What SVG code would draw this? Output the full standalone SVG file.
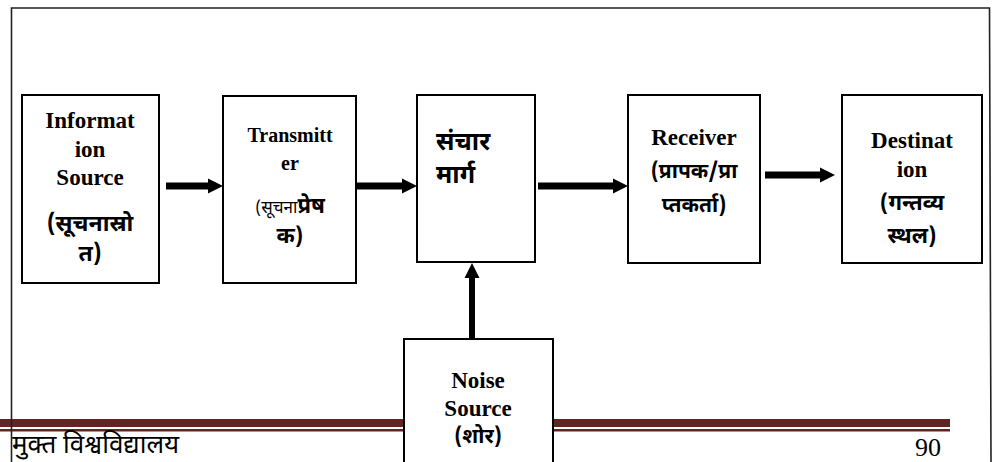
<svg xmlns="http://www.w3.org/2000/svg" width="1002" height="462" viewBox="0 0 1002 462">
  <style>
    .box { fill: #ffffff; stroke: #000000; stroke-width: 2; }
    .frame { fill: none; stroke: #222222; stroke-width: 1.6; }
    .en { font-family: "Liberation Serif", "Times New Roman", serif; font-weight: bold; fill: #000; text-anchor: middle; }
    .hi { font-family: "Noto Sans Devanagari", "Lohit Devanagari", "Noto Sans", sans-serif; font-weight: bold; fill: #000; text-anchor: middle; }
    .hi-left { font-family: "Noto Sans Devanagari", "Lohit Devanagari", "Noto Sans", sans-serif; font-weight: bold; fill: #000; text-anchor: start; }
    .flow { stroke: #000000; stroke-width: 7; fill: none; }
    .footer { font-family: "Noto Sans Devanagari", "Lohit Devanagari", "Noto Sans", sans-serif; fill: #000; }
  </style>
  <defs>
    <marker id="head" markerUnits="userSpaceOnUse" markerWidth="16" markerHeight="16" viewBox="0 -8 16 16" refX="0" refY="0" orient="auto">
      <path d="M0,-7.5 L15,0 L0,7.5 Z" fill="#000"/>
    </marker>
  </defs>

  <!-- page band and page number -->
  <rect x="0" y="419" width="950" height="8" fill="#632523"/>
  <rect x="0" y="429" width="950" height="2.5" fill="#632523"/>
  <text class="footer" x="12" y="453" font-size="26">मुक्त विश्वविद्यालय</text>
  <text x="928" y="456" font-family="Liberation Serif, serif" font-size="26" text-anchor="middle" fill="#000">90</text>

  <!-- outer frame -->
  <path class="frame" d="M11.5,462 L11.5,8 L989.5,8 L991,462"/>

  <!-- connectors -->
  <g id="connectors">
    <line class="flow" x1="166" y1="186" x2="208" y2="186" marker-end="url(#head)"/>
    <line class="flow" x1="356" y1="186" x2="402" y2="186" marker-end="url(#head)"/>
    <line class="flow" x1="538" y1="186" x2="613" y2="186" marker-end="url(#head)"/>
    <line class="flow" x1="765" y1="175" x2="820" y2="175" marker-end="url(#head)"/>
    <line class="flow" style="stroke-width:6" x1="472" y1="338" x2="472" y2="278" marker-end="url(#head)"/>
  </g>

  <g id="info-source">
    <rect class="box" x="22" y="95" width="137" height="188"/>
    <text class="en" x="90" y="128" font-size="23">Informat</text>
    <text class="en" x="90" y="157" font-size="23">ion</text>
    <text class="en" x="90" y="185" font-size="23">Source</text>
    <text class="hi" x="90" y="231" font-size="23">(सूचनास्रो</text>
    <text class="hi" x="90" y="261" font-size="23">त)</text>
  </g>

  <g id="transmitter">
    <rect class="box" x="223" y="96" width="133" height="187"/>
    <text class="en" x="290" y="142" font-size="20">Transmitt</text>
    <text class="en" x="290" y="170" font-size="20">er</text>
    <text class="hi" x="290" y="213" font-size="22"><tspan font-weight="normal" font-size="17">(सूचना</tspan>प्रेष</text>
    <text class="hi" x="290" y="243" font-size="22">क)</text>
  </g>

  <g id="channel">
    <rect class="box" x="417" y="95" width="118" height="167"/>
    <text class="hi-left" x="436" y="150" font-size="25">संचार</text>
    <text class="hi-left" x="436" y="183" font-size="25">मार्ग</text>
  </g>

  <g id="receiver">
    <rect class="box" x="628" y="95" width="132" height="168"/>
    <text class="en" x="694" y="145" font-size="23">Receiver</text>
    <text class="hi" x="694" y="178" font-size="21">(प्रापक/प्रा</text>
    <text class="hi" x="694" y="212" font-size="21">प्तकर्ता)</text>
  </g>

  <g id="destination">
    <rect class="box" x="842" y="95" width="140" height="168"/>
    <text class="en" x="912" y="148" font-size="23">Destinat</text>
    <text class="en" x="912" y="177" font-size="23">ion</text>
    <text class="hi" x="912" y="210" font-size="22">(गन्तव्य</text>
    <text class="hi" x="912" y="243" font-size="22">स्थल)</text>
  </g>

  <g id="noise-source">
    <rect class="box" x="404" y="339" width="149" height="140"/>
    <text class="en" x="478" y="388" font-size="23">Noise</text>
    <text class="en" x="478" y="416" font-size="23">Source</text>
    <text class="hi" x="478" y="443" font-size="21">(शोर)</text>
  </g>
</svg>
